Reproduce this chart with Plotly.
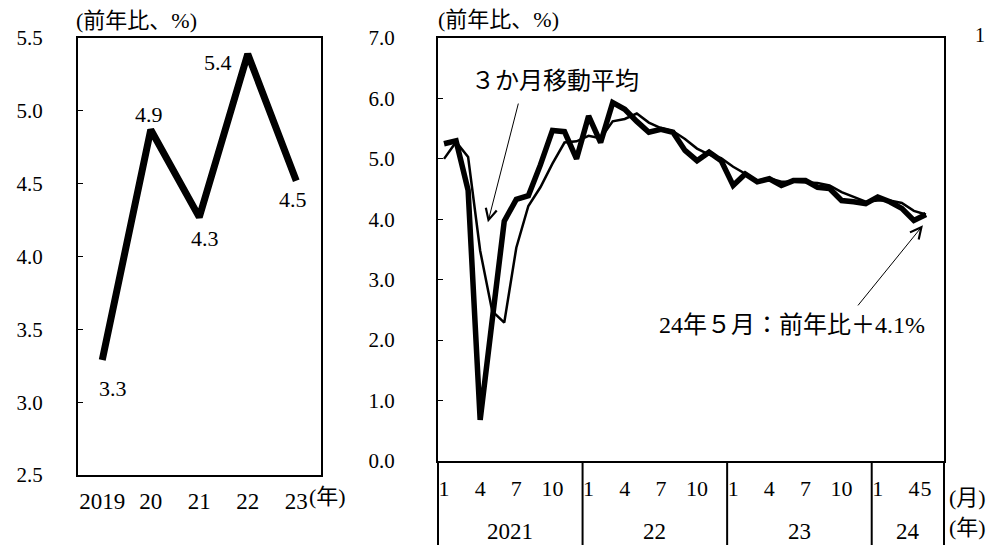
import plotly.graph_objs as go

# left panel: annual growth (前年比、%)
year_pos = [0, 1, 2, 3, 4]
year_ticks = ["2019", "20", "21", "22", "23"]
annual = [3.29, 4.87, 4.27, 5.39, 4.52]
annual_text = ["3.3", "4.9", "4.3", "5.4", "4.5"]

# right panel: monthly, 2021/1 - 2024/5
month_idx = list(range(41))
monthly = [5.25, 5.30, 4.48, 0.68, 2.33, 3.97, 4.33, 4.39, 4.90, 5.47, 5.45, 5.00,
           5.71, 5.27, 5.93, 5.82, 5.62, 5.44, 5.49, 5.44, 5.14, 4.97, 5.11, 4.97,
           4.56, 4.75, 4.62, 4.67, 4.56, 4.64, 4.64, 4.53, 4.51, 4.31, 4.29, 4.26,
           4.37, 4.29, 4.18, 3.98, 4.08]
ma3 = [5.00, 5.28, 5.03, 3.48, 2.48, 2.29, 3.53, 4.22, 4.53, 4.92, 5.27, 5.29,
       5.38, 5.34, 5.62, 5.66, 5.75, 5.60, 5.51, 5.46, 5.33, 5.17, 5.07, 5.01,
       4.87, 4.76, 4.64, 4.68, 4.62, 4.62, 4.61, 4.60, 4.56, 4.45, 4.37, 4.29,
       4.31, 4.31, 4.27, 4.14, 4.08]

month_ticks = [0, 3, 6, 9, 12, 15, 18, 21, 24, 27, 30, 33, 36, 39, 40]
month_labels = ["1", "4", "7", "10", "1", "4", "7", "10", "1", "4", "7", "10", "1", "4", "5"]
year_labels = ["2021", "22", "23", "24"]
year_mid = [5.5, 17.5, 29.5, 38.5]
year_breaks = [11.5, 23.5, 35.5]

FONT = "Liberation Serif, Noto Sans CJK JP"
W, H = 988, 545


def px(x, y):
    # pixel position -> paper coords
    return x / W, 1 - y / H


fig = go.Figure()
fig.add_trace(go.Scatter(x=year_pos, y=annual, mode="lines",
                         line=dict(color="black", width=7),
                         xaxis="x", yaxis="y", showlegend=False))
fig.add_trace(go.Scatter(x=month_idx, y=ma3, mode="lines",
                         line=dict(color="black", width=2.5),
                         xaxis="x2", yaxis="y2", showlegend=False))
fig.add_trace(go.Scatter(x=month_idx, y=monthly, mode="lines",
                         line=dict(color="black", width=5.5),
                         xaxis="x2", yaxis="y2", showlegend=False))

ann = []
# data labels, left panel
label_shift = [(11, -29), (-2, 15), (6, -21), (-30, -8), (-3, -19)]
for xp, v, t, (dx, dy) in zip(year_pos, annual, annual_text, label_shift):
    ann.append(dict(x=xp, y=v, xref="x", yref="y", text=t, showarrow=False,
                    xanchor="center", yanchor="middle",
                    xshift=dx, yshift=dy, font=dict(size=22)))


def note(x, y, text, size=22, xanchor="left"):
    X, Y = px(x, y)
    return dict(x=X, y=Y, xref="paper", yref="paper", text=text, showarrow=False,
                xanchor=xanchor, yanchor="middle", font=dict(size=size))


ann += [
    note(74, 20, "(前年比、%)", 22),
    note(436, 19, "(前年比、%)", 22),
    note(307, 496, "(年)", 22),
    note(947, 497, "(月)", 22),
    note(947, 527, "(年)", 22),
    note(987, 35, "1", 20, "right"),
    # callouts
    dict(x=9.2, y=6.29, xref="x2", yref="y2", text="３か月移動平均",
         xanchor="center", yanchor="middle", showarrow=False, font=dict(size=24)),
    dict(x=3.64, y=3.95, ax=6.2, ay=5.94, xref="x2", yref="y2", axref="x2", ayref="y2",
         text="", showarrow=True, arrowhead=5, arrowsize=2.2, arrowwidth=1, arrowcolor="black"),
    dict(x=28.86, y=2.25, xref="x2", yref="y2", text="24年５月：前年比＋4.1%",
         xanchor="center", yanchor="middle", showarrow=False, font=dict(size=24)),
    dict(x=39.75, y=3.90, ax=34.26, ay=2.55, xref="x2", yref="y2", axref="x2", ayref="y2",
         text="", showarrow=True, arrowhead=5, arrowsize=2.2, arrowwidth=1, arrowcolor="black"),
]
for yl, xm in zip(year_labels, year_mid):
    ann.append(dict(x=xm, y=1 - 531 / H, xref="x2", yref="paper", text=yl,
                    xanchor="center", yanchor="middle", showarrow=False, font=dict(size=23)))

shapes = []
for b in year_breaks:
    shapes.append(dict(type="line", xref="x2", yref="paper", x0=b, x1=b, y0=0, y1=1 - 461 / H,
                       line=dict(color="black", width=2)))
for d in [0, 1]:
    shapes.append(dict(type="line", xref="x2 domain", yref="paper", x0=d, x1=d, y0=0,
                       y1=1 - 461 / H, line=dict(color="black", width=2)))

axis_common = dict(showline=True, linecolor="black", linewidth=2, mirror=True,
                   showgrid=False, zeroline=False, automargin=False)

fig.update_layout(
    template="none",
    width=W, height=H,
    margin=dict(l=0, r=0, t=0, b=0),
    paper_bgcolor="white", plot_bgcolor="white",
    hovermode=False,
    font=dict(family=FONT, color="black", size=20),
    xaxis=dict(domain=[78 / W, 320.5 / W], anchor="y", range=[-0.5, 4.5],
               tickvals=year_pos, ticktext=year_ticks, ticks="", tickangle=0,
               tickfont=dict(size=23), ticklabelstandoff=4, **axis_common),
    yaxis=dict(domain=[1 - 475 / H, 1 - 38 / H], anchor="x", range=[2.5, 5.5], dtick=0.5,
               tickformat=".1f", ticks="inside", ticklen=5, tickcolor="black",
               tickfont=dict(size=21), ticklabelstandoff=29, **axis_common),
    xaxis2=dict(domain=[438 / W, 944 / W], anchor="y2", range=[-0.5, 41.5],
                tickvals=month_ticks, ticktext=month_labels, ticks="", tickangle=0,
                tickfont=dict(size=22), ticklabelstandoff=7, **axis_common),
    yaxis2=dict(domain=[1 - 461 / H, 1 - 38 / H], anchor="x2", range=[0, 7], dtick=1,
                tickformat=".1f", ticks="inside", ticklen=5, tickcolor="black",
                tickfont=dict(size=21), ticklabelstandoff=37, **axis_common),
    annotations=ann,
    shapes=shapes,
)

# the page has a default 8px body margin; drop it so the chart sits at (0, 0)
fig.write_html("out.html", config={"displayModeBar": False},
               post_script="document.body.style.margin='0';")
